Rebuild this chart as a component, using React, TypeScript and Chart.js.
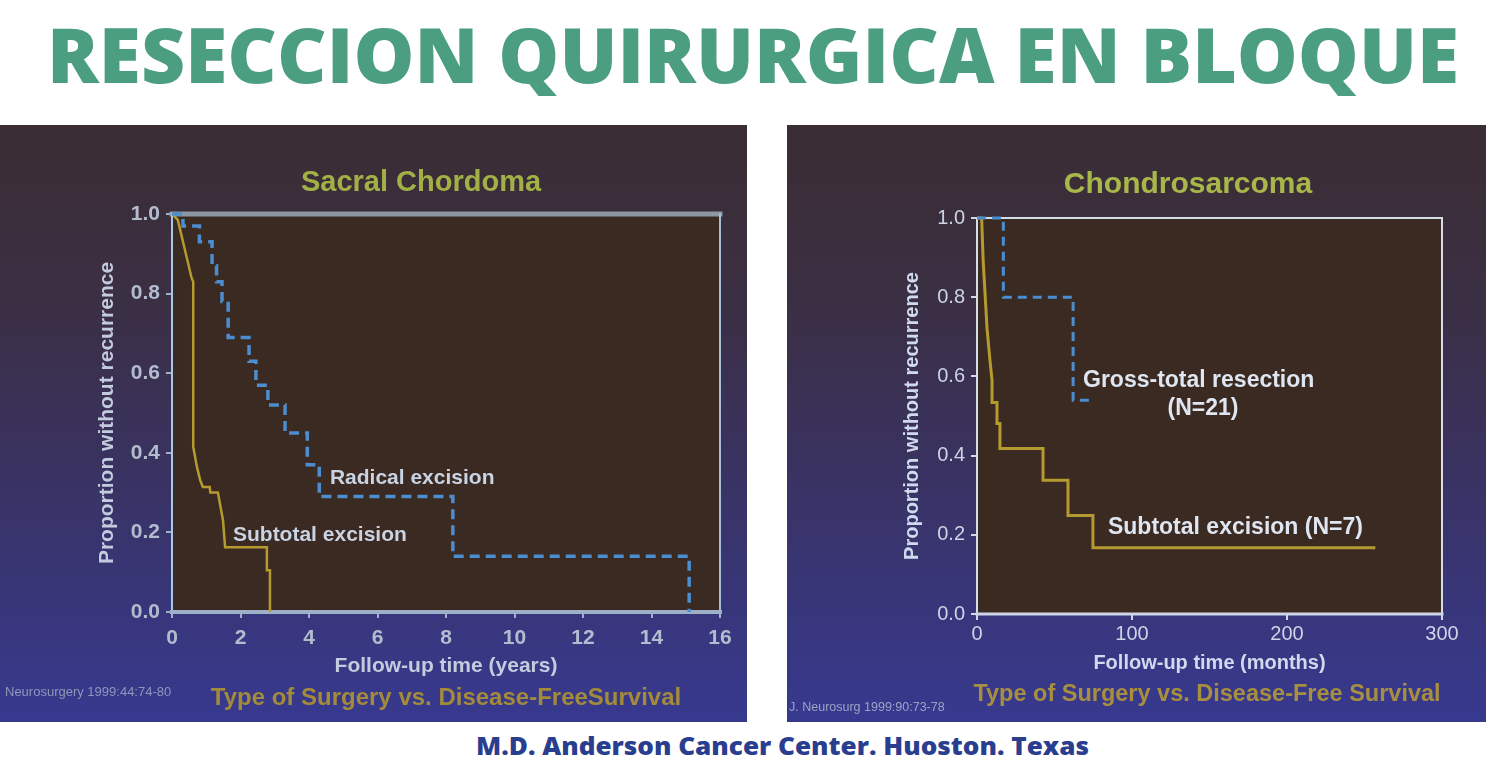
import React, { useEffect, useRef } from "react";
import { Chart, registerables } from "chart.js";

Chart.register(...registerables);

// ---------------- data ----------------
const survivalTicks = [0, 0.2, 0.4, 0.6, 0.8, 1.0];
const sacralYearTicks = [0, 2, 4, 6, 8, 10, 12, 14, 16];
const chondroMonthTicks = [0, 100, 200, 300];

// Sacral chordoma – radical excision (Kaplan–Meier, step after each event)
const sacralRadicalYears = [0, 0.32, 0.8, 1.17, 1.3, 1.46, 1.64, 2.25, 2.45, 2.8, 3.3, 3.95, 4.3, 8.2, 15.1];
const sacralRadicalSurvival = [1.0, 0.97, 0.93, 0.87, 0.83, 0.78, 0.69, 0.63, 0.57, 0.52, 0.45, 0.37, 0.29, 0.14, 0.0];

// Sacral chordoma – subtotal excision (drawn as a connected line)
const sacralSubtotalYears = [0, 0.17, 0.57, 0.62, 0.62, 0.73, 0.82, 0.9, 1.1, 1.12, 1.34, 1.49, 1.55, 2.77, 2.77, 2.86, 2.86];
const sacralSubtotalSurvival = [1.0, 0.985, 0.84, 0.83, 0.415, 0.364, 0.332, 0.314, 0.314, 0.3, 0.3, 0.23, 0.163, 0.163, 0.105, 0.105, 0.0];

// Chondrosarcoma – gross-total resection (N=21)
const chondroGrossMonths = [0, 17, 62, 75];
const chondroGrossSurvival = [1.0, 0.8, 0.54, 0.54];

// Chondrosarcoma – subtotal excision (N=7)
const chondroSubtotalMonths = [0, 3, 4, 6.5, 8.5, 9.7, 9.7, 12.9, 12.9, 14.8, 14.8, 42.6, 42.6, 58.7, 58.7, 74.8, 74.8, 257];
const chondroSubtotalSurvival = [1.0, 1.0, 0.89, 0.72, 0.635, 0.59, 0.534, 0.534, 0.481, 0.481, 0.418, 0.418, 0.338, 0.338, 0.249, 0.249, 0.167, 0.167];

// ---------------- styling ----------------
const SANS = '"Liberation Sans", Arial, Helvetica, sans-serif';
const BLUE = "#4b8dcf";
const GOLD = "#b59b2f";

const toPoints = (xs: number[], ys: number[]) => xs.map((x, i) => ({ x, y: ys[i] }));

type Note = { text: string; x: number; y: number; align: CanvasTextAlign; font: string; color: string };
type Edge = [string, number];

interface PanelSpec {
  left: number;
  top: number;
  width: number;
  height: number;
  plot: { left: number; top: number; right: number; bottom: number };
  xMax: number;
  xTicks: number[];
  xTitle: string;
  xTitlePadBottom: number;
  yTitlePadTop: number;
  axisTitleFont: { family: string; size: number; weight: any };
  axisTitleColor: string;
  tickFont: { family: string; size: number; weight: any };
  tickColor: string;
  tickMarkColor: string;
  xTickPad: number;
  yTickPad: number;
  title: { text: string; x: number; y: number; font: string; color: string };
  footer: { text: string; x: number; y: number; font: string; color: string };
  cite: { text: string; x: number; y: number; font: string; color: string };
  notes: Note[];
  edges: { top: Edge; left: Edge; bottom: Edge; right: Edge };
  bgStops: [number, string][];
  plotFill: string;
  datasets: any[];
}

function slidePlugin(spec: PanelSpec) {
  return {
    id: "slideDecor",
    beforeDraw(chart: any) {
      const { ctx, width, height, chartArea: a } = chart;
      ctx.save();
      const g = ctx.createLinearGradient(0, 0, 0, height);
      spec.bgStops.forEach(([o, c]) => g.addColorStop(o, c));
      ctx.fillStyle = g;
      ctx.fillRect(0, 0, width, height);
      ctx.fillStyle = spec.plotFill;
      ctx.fillRect(a.left, a.top, a.right - a.left, a.bottom - a.top);
      ctx.restore();
    },
    beforeDatasetsDraw(chart: any) {
      const { ctx, chartArea: a } = chart;
      const line = (e: Edge, x1: number, y1: number, x2: number, y2: number) => {
        ctx.beginPath();
        ctx.strokeStyle = e[0];
        ctx.lineWidth = e[1];
        ctx.lineCap = "square";
        ctx.moveTo(x1, y1);
        ctx.lineTo(x2, y2);
        ctx.stroke();
      };
      ctx.save();
      line(spec.edges.top, a.left, a.top, a.right, a.top);
      line(spec.edges.right, a.right, a.top, a.right, a.bottom);
      line(spec.edges.left, a.left, a.top, a.left, a.bottom);
      line(spec.edges.bottom, a.left, a.bottom, a.right, a.bottom);
      ctx.restore();
    },
    afterDraw(chart: any) {
      const { ctx } = chart;
      const xs = chart.scales.x;
      const ys = chart.scales.y;
      const put = (t: { text: string; x: number; y: number; font: string; color: string }, align: CanvasTextAlign) => {
        ctx.font = t.font;
        ctx.fillStyle = t.color;
        ctx.textAlign = align;
        ctx.textBaseline = "middle";
        ctx.fillText(t.text, t.x, t.y);
      };
      ctx.save();
      put(spec.title, "center");
      put(spec.footer, "center");
      put(spec.cite, "left");
      spec.notes.forEach((n) => {
        put({ ...n, x: xs.getPixelForValue(n.x), y: ys.getPixelForValue(n.y) }, n.align);
      });
      ctx.restore();
    },
  };
}

function buildConfig(spec: PanelSpec): any {
  return {
    type: "line",
    data: { datasets: spec.datasets },
    plugins: [slidePlugin(spec)],
    options: {
      responsive: false,
      animation: false,
      events: [],
      layout: {
        padding: { left: 0, top: spec.plot.top, right: spec.width - spec.plot.right, bottom: 0 },
      },
      plugins: { legend: { display: false }, tooltip: { enabled: false }, title: { display: false } },
      elements: { point: { radius: 0 }, line: { tension: 0 } },
      scales: {
        x: {
          type: "linear",
          min: 0,
          max: spec.xMax,
          afterBuildTicks: (s: any) => {
            s.ticks = spec.xTicks.map((v) => ({ value: v }));
          },
          afterFit: (s: any) => {
            s.height = spec.height - spec.plot.bottom;
          },
          border: { display: false },
          grid: { drawOnChartArea: false, drawTicks: true, tickLength: 6, color: spec.tickMarkColor, lineWidth: 2 },
          ticks: {
            padding: spec.xTickPad,
            color: spec.tickColor,
            font: spec.tickFont,
            maxRotation: 0,
            autoSkip: false,
            callback: (v: any) => String(v),
          },
          title: {
            display: true,
            text: spec.xTitle,
            color: spec.axisTitleColor,
            font: spec.axisTitleFont,
            padding: { top: 0, bottom: spec.xTitlePadBottom },
          },
        },
        y: {
          type: "linear",
          min: 0,
          max: 1,
          afterBuildTicks: (s: any) => {
            s.ticks = survivalTicks.map((v) => ({ value: v }));
          },
          afterFit: (s: any) => {
            s.width = spec.plot.left;
          },
          border: { display: false },
          grid: { drawOnChartArea: false, drawTicks: true, tickLength: 6, color: spec.tickMarkColor, lineWidth: 2 },
          ticks: {
            padding: spec.yTickPad,
            color: spec.tickColor,
            font: spec.tickFont,
            autoSkip: false,
            callback: (v: any) => Number(v).toFixed(1),
          },
          title: {
            display: true,
            text: "Proportion without recurrence",
            color: spec.axisTitleColor,
            font: spec.axisTitleFont,
            padding: { top: spec.yTitlePadTop, bottom: 0 },
          },
        },
      },
    },
  };
}

const slideBg: [number, string][] = [
  [0, "#3b2d33"],
  [0.3, "#3b2f44"],
  [0.62, "#393366"],
  [1, "#37398f"],
];

const sacralSpec: PanelSpec = {
  left: 0,
  top: 125,
  width: 747,
  height: 597,
  plot: { left: 172, top: 89, right: 720, bottom: 487 },
  xMax: 16,
  xTicks: sacralYearTicks,
  xTitle: "Follow-up time (years)",
  xTitlePadBottom: 43,
  yTitlePadTop: 95,
  axisTitleFont: { family: SANS, size: 21, weight: "bold" },
  axisTitleColor: "#c3cbde",
  tickFont: { family: SANS, size: 21, weight: "bold" },
  tickColor: "#b3bccf",
  tickMarkColor: "#9fb0c8",
  xTickPad: 8,
  yTickPad: 6,
  title: { text: "Sacral Chordoma", x: 421, y: 58, font: `bold 29px ${SANS}`, color: "#a2b146" },
  footer: { text: "Type of Surgery vs. Disease-FreeSurvival", x: 446, y: 573, font: `bold 24px ${SANS}`, color: "#a38b3a" },
  cite: { text: "Neurosurgery 1999:44:74-80", x: 5, y: 567, font: `13px ${SANS}`, color: "#8f96ba" },
  notes: [
    { text: "Radical excision", x: 4.61, y: 0.337, align: "left", font: `bold 21px ${SANS}`, color: "#c9d3e3" },
    { text: "Subtotal excision", x: 1.78, y: 0.193, align: "left", font: `bold 21px ${SANS}`, color: "#c9d3e3" },
  ],
  edges: {
    top: ["#8b98a3", 5],
    left: ["#a8c8e8", 2],
    bottom: ["#9eb0c7", 4],
    right: ["#aabdd6", 2],
  },
  bgStops: slideBg,
  plotFill: "#3a2a22",
  datasets: [
    {
      label: "Radical excision",
      data: toPoints(sacralRadicalYears, sacralRadicalSurvival),
      borderColor: BLUE,
      borderWidth: 3.5,
      borderDash: [10, 6],
      stepped: "before",
      fill: false,
      clip: 10,
    },
    {
      label: "Subtotal excision",
      data: toPoints(sacralSubtotalYears, sacralSubtotalSurvival),
      borderColor: GOLD,
      borderWidth: 2.5,
      fill: false,
      clip: 10,
    },
  ],
};

const chondroSpec: PanelSpec = {
  left: 787,
  top: 125,
  width: 699,
  height: 597,
  plot: { left: 190, top: 93, right: 655, bottom: 489 },
  xMax: 300,
  xTicks: chondroMonthTicks,
  xTitle: "Follow-up time (months)",
  xTitlePadBottom: 47,
  yTitlePadTop: 113,
  axisTitleFont: { family: SANS, size: 20, weight: "bold" },
  axisTitleColor: "#cfdaee",
  tickFont: { family: SANS, size: 20, weight: "normal" },
  tickColor: "#ccd4e6",
  tickMarkColor: "#d0d8e6",
  xTickPad: 2,
  yTickPad: 6,
  title: { text: "Chondrosarcoma", x: 401, y: 60, font: `bold 30px ${SANS}`, color: "#a8b74a" },
  footer: { text: "Type of Surgery vs. Disease-Free Survival", x: 420, y: 570, font: `bold 23.5px ${SANS}`, color: "#a88f3f" },
  cite: { text: "J. Neurosurg 1999:90:73-78", x: 2, y: 583, font: `12.5px ${SANS}`, color: "#9ca2c6" },
  notes: [
    { text: "Gross-total resection", x: 68.4, y: 0.589, align: "left", font: `bold 23px ${SANS}`, color: "#dfe6f2" },
    { text: "(N=21)", x: 145.8, y: 0.519, align: "center", font: `bold 23px ${SANS}`, color: "#dfe6f2" },
    { text: "Subtotal excision (N=7)", x: 84.5, y: 0.217, align: "left", font: `bold 23px ${SANS}`, color: "#dfe6f2" },
  ],
  edges: {
    top: ["#d5dde8", 2],
    left: ["#d5dde8", 2],
    bottom: ["#cdd6e6", 3],
    right: ["#d5dde8", 2],
  },
  bgStops: slideBg,
  plotFill: "#3a2a22",
  datasets: [
    {
      label: "Gross-total resection (N=21)",
      data: toPoints(chondroGrossMonths, chondroGrossSurvival),
      borderColor: BLUE,
      borderWidth: 3,
      borderDash: [9, 6],
      stepped: "before",
      fill: false,
      clip: 10,
    },
    {
      label: "Subtotal excision (N=7)",
      data: toPoints(chondroSubtotalMonths, chondroSubtotalSurvival),
      borderColor: GOLD,
      borderWidth: 3,
      fill: false,
      clip: 10,
    },
  ],
};

function SlidePanel({ spec }: { spec: PanelSpec }) {
  const ref = useRef<HTMLCanvasElement>(null);
  useEffect(() => {
    if (!ref.current) return;
    const chart = new Chart(ref.current, buildConfig(spec));
    return () => chart.destroy();
  }, [spec]);
  return (
    <canvas
      ref={ref}
      width={spec.width}
      height={spec.height}
      style={{ position: "absolute", left: spec.left, top: spec.top, width: spec.width, height: spec.height, display: "block" }}
    />
  );
}

export default function App() {
  return (
    <div style={{ position: "absolute", left: 0, top: 0, width: 1486, height: 768, background: "#ffffff", overflow: "hidden" }}>
      <svg width={1486} height={768} style={{ position: "absolute", left: 0, top: 0 }}>
        <text
          x={47}
          y={83}
          textLength={1412}
          lengthAdjust="spacingAndGlyphs"
          fontFamily="'Open Sans', 'Noto Sans', sans-serif"
          fontWeight={800}
          fontSize={77}
          fill="#4b9e7f"
        >
          RESECCION QUIRURGICA EN BLOQUE
        </text>
        <text
          x={476}
          y={755}
          textLength={613}
          lengthAdjust="spacingAndGlyphs"
          fontFamily="'Open Sans', 'Noto Sans', sans-serif"
          fontWeight={800}
          fontSize={24}
          fill="#2a3e90"
        >
          M.D. Anderson Cancer Center. Huoston. Texas
        </text>
      </svg>
      <SlidePanel spec={sacralSpec} />
      <SlidePanel spec={chondroSpec} />
    </div>
  );
}
